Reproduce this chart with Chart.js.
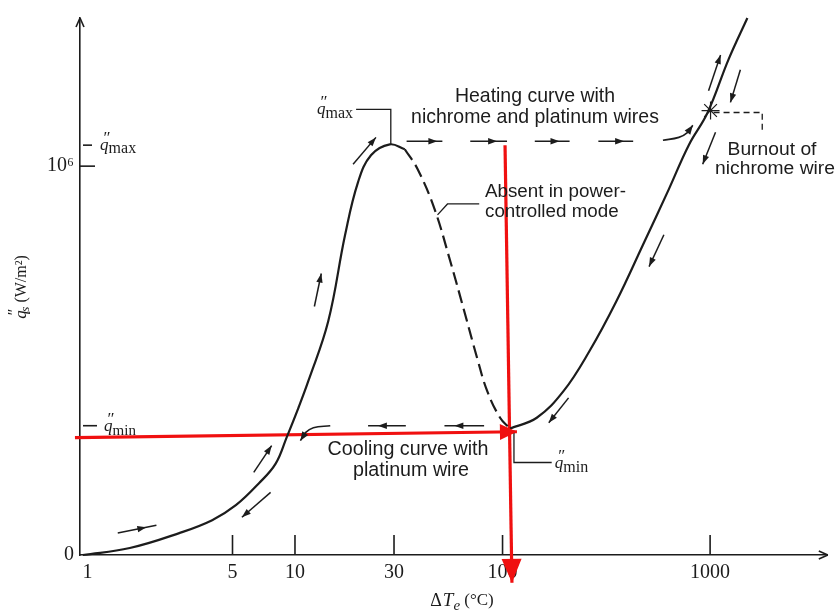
<!DOCTYPE html>
<html><head><meta charset="utf-8">
<script src="https://cdn.jsdelivr.net/npm/chart.js@4.4.1/dist/chart.umd.min.js"></script>
<style>html,body{margin:0;padding:0;background:#fff;}#wrap{width:838px;height:616px;}</style>
</head><body><div id="wrap"><canvas id="c" width="838" height="616"></canvas></div>
<script>
// ---------- data (ΔTe in °C, q" in W/m²) ----------
const xTicks = [1, 5, 10, 30, 100, 1000];
const yTicks = [0, 1e6];
const yTickLabels = ['0', '10⁶'];
const qMax = 1.054e6;
const qMin = 0.3325e6;

const nucleateX = [0.95, 1.6, 2.77, 3.99, 5.19, 6.69, 8.07, 9.11, 10.39, 11.6, 14.46, 17.44, 20.13, 23.23, 28.63, 33.8];
const nucleateY = [0, 17900, 56300, 89500, 128000, 184000, 235000, 302000, 378500, 447600, 601000, 823500, 959000, 1028000, 1056000, 1043500];
const transitionX = [33.8, 39.0, 47.0, 56.1, 65.4, 75.5, 84.3, 97.3, 108.6];
const transitionY = [1043500, 992000, 890000, 754000, 627000, 506000, 422000, 353000, 325000];
const filmX = [108.6, 146.2, 197, 262, 353, 475, 633, 789, 973, 1226, 1512];
const filmY = [325000, 353000, 422000, 524000, 652000, 798000, 941000, 1054000, 1138000, 1274000, 1381000];

// heating path (power-controlled jump)
const heatY = 1.064e6;
const heatDashX = [[34.5, 51.3], [69.9, 105.1], [143, 210.4], [289.5, 425.9]];
const heatHeadAt = [0.86, 0.73, 0.71, 0.74];
const heatBendX = [592.6, 707, 780, 825];
const heatBendY = [1.0665e6, 1.074e6, 1.087e6, 1.105e6];
// cooling path
const coolY = 0.3325e6;
const coolDashX = [[81.5, 52.5], [34.2, 22.5]];
const coolHeadAt = [0.75, 0.74];
const coolBendX = [14.79, 12.26, 11.23, 10.62];
const coolBendY = [0.3325e6, 0.3274e6, 0.3146e6, 0.2941e6];
// direction arrows along the curve: [x1, y1, x2, y2, head position]
const flowArrows = [
  [1.40, 0.0563e6, 2.15, 0.0767e6, 0.74],
  [6.33, 0.2123e6, 7.72, 0.2813e6, 1],
  [7.63, 0.161e6, 5.55, 0.0972e6, 1],
  [12.40, 0.639e6, 13.39, 0.724e6, 1],
  [19.05, 1.005e6, 24.55, 1.074e6, 1],
  [983, 1.194e6, 1123, 1.286e6, 1],
  [1399, 1.248e6, 1253, 1.164e6, 1],
  [1062, 1.087e6, 921, 1.005e6, 1],
  [599, 0.8235e6, 508, 0.7417e6, 1],
  [208, 0.404e6, 167, 0.340e6, 1]
];
// leader lines
const qMaxLeaderX = [19.7, 28.95, 28.95];
const qMaxLeaderY = [1.1458e6, 1.1458e6, 1.0563e6];
const qMinLeaderX = [113.5, 113.5, 172.5];
const qMinLeaderY = [0.3197e6, 0.2379e6, 0.2379e6];
const absentLeaderX = [48.6, 54.3, 77.2];
const absentLeaderY = [0.8747e6, 0.9028e6, 0.9028e6];
const burnoutLeaderX = [1039, 1783, 1783];
const burnoutLeaderY = [1.138e6, 1.138e6, 1.087e6];
const burnoutX = [1005];
const burnoutY = [1.143e6];
// red overlay lines
const redHX = [0.871, 117.3];
const redHY = [0.302e6, 0.317e6];
const redVX = [102.8, 111.0];
const redVY = [1.054e6, -0.0716e6];

// ---------- build ----------
const INK = '#1c1c1c';
const RED = '#f01010';
function lineDS(xs, ys, opt) {
  return Object.assign({
    type: 'line', data: xs.map((x, i) => ({x: x, y: ys[i]})),
    borderColor: INK, borderWidth: 2, pointRadius: 0, fill: false,
    tension: 0, clip: false
  }, opt || {});
}
const datasets = [];
datasets.push(lineDS(nucleateX, nucleateY, {tension: 0.4, borderWidth: 2.2}));
datasets.push(lineDS(transitionX, transitionY, {tension: 0.4, borderWidth: 2.2, borderDash: [13, 6]}));
datasets.push(lineDS(filmX, filmY, {tension: 0.4, borderWidth: 2.2}));
heatDashX.forEach((xs, i) => datasets.push(lineDS(xs, [heatY, heatY], {borderWidth: 1.6, arrowHead: {at: heatHeadAt[i], len: 9, half: 3.2}})));
datasets.push(lineDS(heatBendX, heatBendY, {borderWidth: 1.6, tension: 0.4, arrowHead: {at: 1, len: 9, half: 3.5}}));
coolDashX.forEach((xs, i) => datasets.push(lineDS(xs, [coolY, coolY], {borderWidth: 1.6, arrowHead: {at: coolHeadAt[i], len: 9, half: 3.2}})));
datasets.push(lineDS(coolBendX, coolBendY, {borderWidth: 1.6, tension: 0.4, arrowHead: {at: 1, len: 9, half: 3.5}}));
flowArrows.forEach(a => datasets.push(lineDS([a[0], a[2]], [a[1], a[3]], {borderWidth: 1.5, arrowHead: {at: a[4], len: 9, half: 3.2}})));
datasets.push(lineDS(qMaxLeaderX, qMaxLeaderY, {borderWidth: 1.3}));
datasets.push(lineDS(qMinLeaderX, qMinLeaderY, {borderWidth: 1.3}));
datasets.push(lineDS(absentLeaderX, absentLeaderY, {borderWidth: 1.3}));
datasets.push(lineDS(burnoutLeaderX, burnoutLeaderY, {borderWidth: 1.3, borderDash: [6, 4]}));
datasets.push({type: 'scatter', data: burnoutX.map((x, i) => ({x: x, y: burnoutY[i]})), pointStyle: 'star', pointRadius: 9, borderColor: INK, borderWidth: 1.2, backgroundColor: INK, clip: false});
datasets.push(lineDS(redHX, redHY, {borderColor: RED, borderWidth: 3.2, arrowHead: {at: 1, len: 17, half: 8, color: RED}}));
datasets.push(lineDS(redVX, redVY, {borderColor: RED, borderWidth: 3.2, arrowHead: {at: 1, len: 24, half: 10, color: RED}}));

const SERIF = '"Liberation Serif", "DejaVu Serif", serif';
const SANS = '"Liberation Sans", Arial, sans-serif';

function rich(ctx, parts, x, y, align) {
  let w = 0;
  parts.forEach(p => { ctx.font = p[1]; w += (p[3] || 0) + ctx.measureText(p[0]).width; });
  let cx = align === 'center' ? x - w / 2 : (align === 'right' ? x - w : x);
  ctx.textBaseline = 'middle'; ctx.textAlign = 'left';
  parts.forEach(p => { ctx.font = p[1]; cx += (p[3] || 0); ctx.fillText(p[0], cx, y + (p[2] || 0)); cx += ctx.measureText(p[0]).width; });
}
function qParts(sub, qs, ss) {
  return [['q', 'italic ' + qs + 'px ' + SERIF, 0], ['″', qs + 'px ' + SERIF, -7, -5], [sub, ss + 'px ' + SERIF, 4, -2]];
}
function textBlock(ctx, lines, xs, ys, align, refIdx, refW) {
  ctx.font = '20px ' + SANS;
  const size = 20 * refW / ctx.measureText(lines[refIdx]).width;
  ctx.font = size.toFixed(2) + 'px ' + SANS;
  ctx.textAlign = align; ctx.textBaseline = 'middle';
  lines.forEach((t, i) => ctx.fillText(t, xs[i], ys[i]));
}

const deco = {
  id: 'deco',
  afterDatasetsDraw(chart) {
    const ctx = chart.ctx;
    chart.data.datasets.forEach((ds, i) => {
      if (!ds.arrowHead) return;
      const pts = chart.getDatasetMeta(i).data;
      const h = ds.arrowHead;
      let hx, hy, dx, dy;
      const n = pts.length;
      if (h.at < 1 && n === 2) {
        hx = pts[0].x + h.at * (pts[1].x - pts[0].x);
        hy = pts[0].y + h.at * (pts[1].y - pts[0].y);
        dx = pts[1].x - pts[0].x; dy = pts[1].y - pts[0].y;
      } else {
        hx = pts[n - 1].x; hy = pts[n - 1].y;
        dx = pts[n - 1].x - pts[n - 2].x; dy = pts[n - 1].y - pts[n - 2].y;
      }
      const L = Math.hypot(dx, dy) || 1; dx /= L; dy /= L;
      const bx = hx - dx * h.len, by = hy - dy * h.len;
      ctx.save();
      ctx.fillStyle = h.color || INK;
      ctx.beginPath();
      ctx.moveTo(hx, hy);
      ctx.lineTo(bx - dy * h.half, by + dx * h.half);
      ctx.lineTo(bx + dy * h.half, by - dx * h.half);
      ctx.closePath(); ctx.fill();
      ctx.restore();
    });
  },
  afterDraw(chart) {
    const ctx = chart.ctx, a = chart.chartArea, xs = chart.scales.x, ys = chart.scales.y;
    ctx.save();
    ctx.strokeStyle = INK; ctx.fillStyle = INK; ctx.lineWidth = 1.6;
    const seg = (x1, y1, x2, y2) => { ctx.beginPath(); ctx.moveTo(x1, y1); ctx.lineTo(x2, y2); ctx.stroke(); };
    // inward ticks
    xTicks.forEach(v => { if (v === 1) return; const px = xs.getPixelForValue(v); seg(px, a.bottom, px, a.bottom - 20); });
    const p6 = ys.getPixelForValue(1e6); seg(a.left, p6, a.left + 15, p6);
    const pmx = ys.getPixelForValue(qMax); seg(a.left + 3, pmx, a.left + 12, pmx);
    const pmn = ys.getPixelForValue(qMin); seg(a.left + 3, pmn, a.left + 17, pmn);
    // axis arrowheads
    seg(a.left, a.top, a.left - 4, a.top + 9); seg(a.left, a.top, a.left + 4, a.top + 9);
    seg(a.right, a.bottom, a.right - 9, a.bottom - 4); seg(a.right, a.bottom, a.right - 9, a.bottom + 4);
    // q labels
    rich(ctx, qParts('max', 17, 16), a.left + 20, pmx, 'left');
    rich(ctx, qParts('min', 17, 15), a.left + 24, pmn + 1, 'left');
    rich(ctx, qParts('max', 17, 16), xs.getPixelForValue(qMaxLeaderX[0]) - 3, ys.getPixelForValue(qMaxLeaderY[0]), 'right');
    rich(ctx, qParts('min', 17, 16), xs.getPixelForValue(qMinLeaderX[2]) + 3, ys.getPixelForValue(qMinLeaderY[2]) + 1, 'left');
    // text annotations
    textBlock(ctx, ['Heating curve with', 'nichrome and platinum wires'], [535, 535], [97, 118], 'center', 1, 248);
    textBlock(ctx, ['Absent in power-', 'controlled mode'], [485, 485], [192, 212], 'left', 0, 141);
    textBlock(ctx, ['Burnout of', 'nichrome wire'], [772, 775], [150, 169], 'center', 1, 120);
    textBlock(ctx, ['Cooling curve with', 'platinum wire'], [408, 411], [450, 471], 'center', 0, 161);
    // axis titles
    rich(ctx, [['Δ', '18px ' + SERIF, 0], ['T', 'italic 19px ' + SERIF, 0, 1], ['e', 'italic 15px ' + SERIF, 5], [' (°C)', '17px ' + SERIF, 0]], 462, 601, 'center');
    ctx.save();
    ctx.translate(22, 287); ctx.rotate(-Math.PI / 2);
    rich(ctx, [['q', 'italic 17px ' + SERIF, 0], ['″', '16px ' + SERIF, -7, -5], ['s', 'italic 13px ' + SERIF, 4, -3], [' (W/m²)', '16px ' + SERIF, 0]], 0, 0, 'center');
    ctx.restore();
    ctx.restore();
  }
};

new Chart(document.getElementById('c'), {
  type: 'line',
  data: {datasets: datasets},
  options: {
    responsive: false, animation: false, events: [],
    layout: {padding: {top: 15, right: 3, left: 0, bottom: 0}},
    plugins: {legend: {display: false}, tooltip: {enabled: false}},
    scales: {
      x: {
        type: 'logarithmic', position: 'bottom', min: 0.921, max: 3690,
        afterBuildTicks: s => { s.ticks = xTicks.map(v => ({value: v})); },
        afterFit: s => { s.height = 61; },
        grid: {display: false, drawTicks: false},
        border: {display: true, color: INK, width: 1.6},
        ticks: {autoSkip: false, maxRotation: 0, padding: 6, color: INK, font: {family: SERIF, size: 20},
          callback: (v, i) => String(xTicks[i])}
      },
      y: {
        type: 'linear', position: 'left', min: 0, max: 1.381e6,
        afterBuildTicks: s => { s.ticks = yTicks.map(v => ({value: v})); },
        afterFit: s => { s.width = 80; },
        grid: {display: false, drawTicks: false},
        border: {display: true, color: INK, width: 1.6},
        ticks: {autoSkip: false, padding: 6, color: INK, font: {family: SERIF, size: 20},
          callback: (v, i) => yTickLabels[i]}
      }
    }
  },
  plugins: [deco]
});
</script>
</body></html>
